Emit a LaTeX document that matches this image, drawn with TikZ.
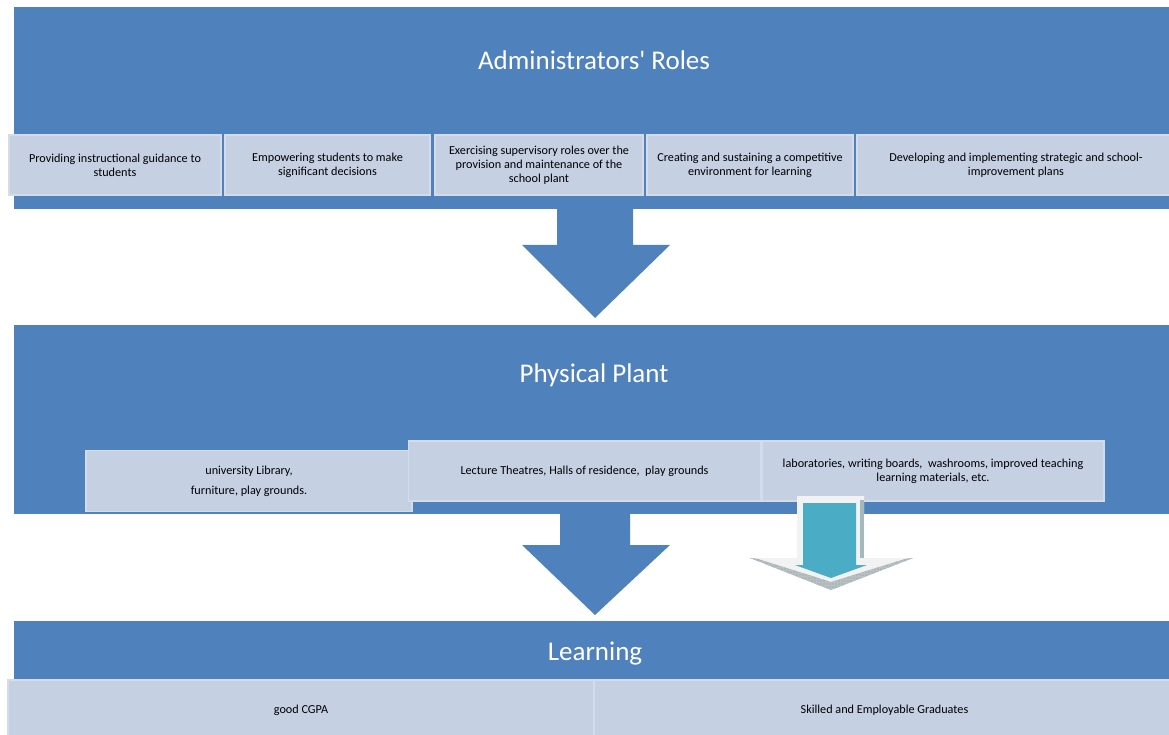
\documentclass[tikz,border=0pt]{standalone}
\usepackage{fontspec}
\setmainfont{Carlito}
\usetikzlibrary{patterns}
\definecolor{bandblue}{HTML}{4F81BD}
\definecolor{boxfill}{HTML}{C5D0E3}
\definecolor{boxline}{HTML}{D4DCEA}
\definecolor{arrowteal}{HTML}{4BACC6}
\definecolor{bevelgray}{HTML}{A3B9BE}
\definecolor{arrowwhite}{HTML}{F2F2F2}
\begin{document}
\begin{tikzpicture}[x=1pt,y=-1pt,
  band/.style={fill=bandblue, draw=none, inner sep=0pt},
  bandtitle/.style={text=white, font=\fontsize{27}{32}\selectfont, anchor=base, inner sep=0pt},
  item/.style={draw=boxline, line width=1.5pt, fill=boxfill, align=center,
    font=\fontsize{12.2}{14}\selectfont, inner sep=0pt},
  blockarrow/.style={fill=bandblue, draw=none}]
\useasboundingbox (0,0) rectangle (1169,735);
\clip (0,0) rectangle (1169,735);

% bands
\node[band, minimum width=1161pt, minimum height=202pt] (adminband) at (594.5,108) {};
\node[band, minimum width=1161pt, minimum height=189pt] (plantband) at (594.5,419.5) {};
\node[band, minimum width=1161pt, minimum height=80pt] (learnband) at (594.5,661) {};

% titles
\node[bandtitle] (admintitle) at (594,70) {Administrators\textquotesingle\ Roles};
\node[bandtitle] (planttitle) at (594,382) {Physical Plant};
\node[bandtitle] (learntitle) at (595,660) {Learning};

% top boxes
\node[item, minimum width=212pt, minimum height=60pt] (r1) at (115,165)
  {Providing instructional guidance to\\students};
\node[item, minimum width=205pt, minimum height=60pt] (r2) at (327.5,165)
  {Empowering students to make\\significant decisions};
\node[item, minimum width=208pt, minimum height=60pt] (r3) at (539,165)
  {Exercising supervisory roles over the\\provision and maintenance of the\\school plant};
\node[item, minimum width=206pt, minimum height=60pt] (r4) at (750,165)
  {Creating and sustaining a competitive\\environment for learning};
\node[item, minimum width=318pt, minimum height=60pt] (r5) at (1016,165)
  {Developing and implementing strategic and school-\\improvement plans};

% arrow 1
\path[blockarrow] (557,205) -- (633,205) -- (633,245) -- (670,245) -- (595,318)
  -- (522,245) -- (557,245) -- cycle;

% physical plant boxes
\node[item, minimum width=326pt, minimum height=61pt] (p1) at (249,481)
  {university Library,\\[6pt]furniture, play grounds.};
\node[item, minimum width=352pt, minimum height=60pt] (p2) at (584.5,471)
  {Lecture Theatres, Halls of residence, \ play grounds};
\node[item, minimum width=342pt, minimum height=60pt] (p3) at (933,471)
  {laboratories, writing boards, \ washrooms, improved teaching\\learning materials, etc.};

% arrow 2
\path[blockarrow] (560,510) -- (630,510) -- (630,545) -- (670,545) -- (595,615)
  -- (522,545) -- (560,545) -- cycle;

% teal 3D arrow
\path[fill=arrowwhite] (797,496) -- (864,496) -- (864,558) -- (913,558) -- (831,590)
  -- (750,558) -- (797,558) -- cycle;
\path[fill=bevelgray] (860,500) rectangle (864,558);
\path[fill=bevelgray] (750,558) -- (831,590) -- (913,558) -- (905,559) -- (831,582)
  -- (758,559) -- cycle;
\path[pattern=grid, pattern color=gray!50] (750,558) -- (831,590) -- (913,558)
  -- (905,559) -- (831,582) -- (758,559) -- cycle;
\path[fill=arrowteal] (803,503) -- (856,503) -- (856,565) -- (867,565) -- (831,578)
  -- (795,565) -- (803,565) -- cycle;

% learning boxes
\node[item, minimum width=586pt, minimum height=60pt] (l1) at (301,710) {good CGPA};
\node[item, minimum width=581pt, minimum height=60pt] (l2) at (884.5,710)
  {Skilled and Employable Graduates};
\end{tikzpicture}
\end{document}
